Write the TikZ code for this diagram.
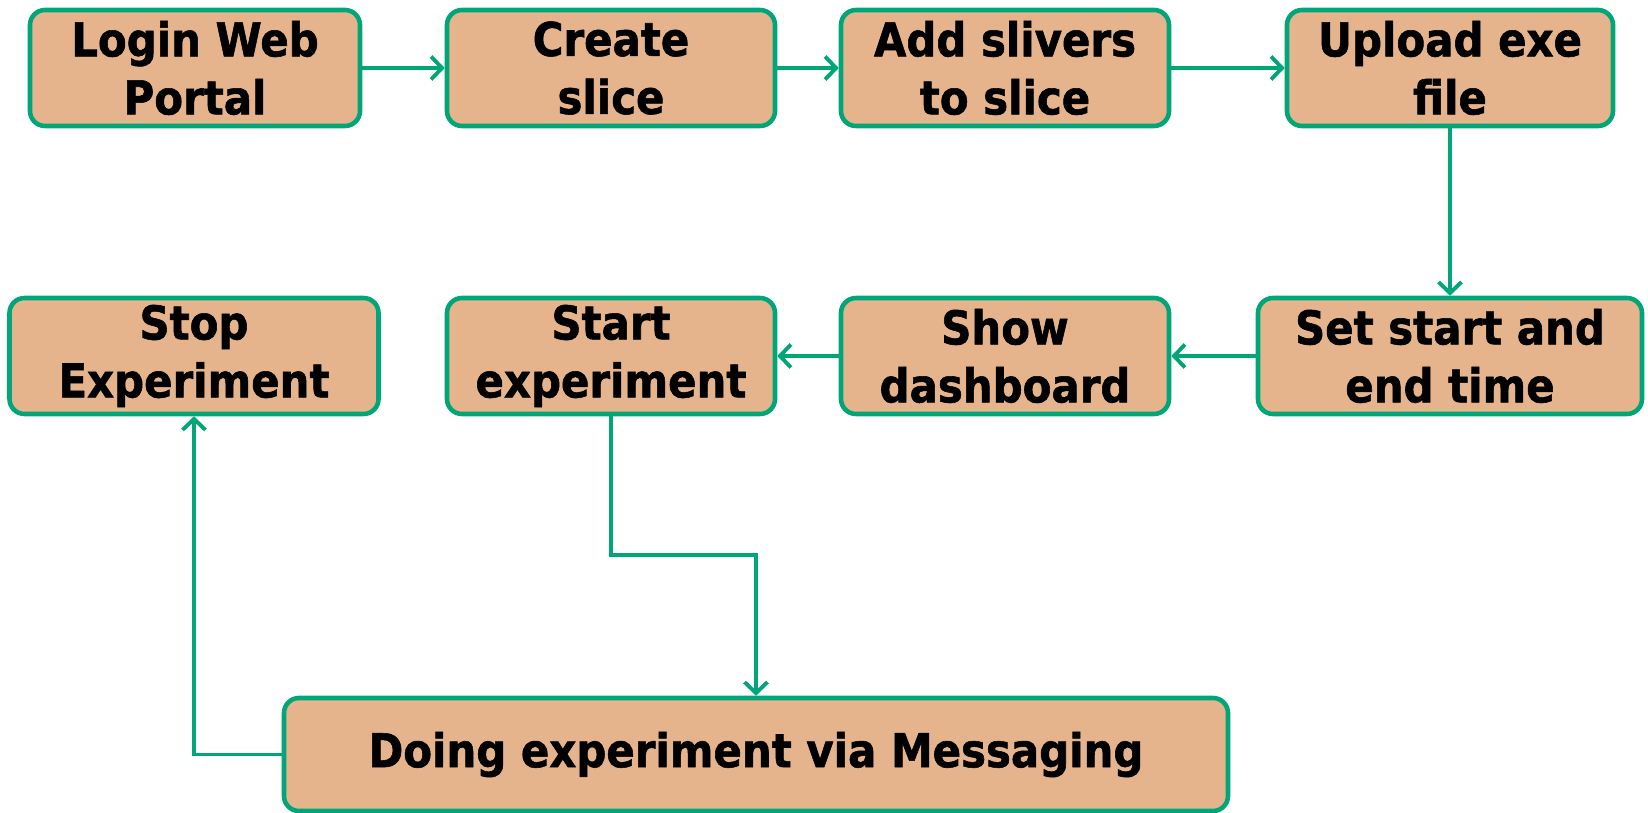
\documentclass[tikz,border=0pt]{standalone}
\usepackage{fontspec}
\setmainfont{DejaVu Sans}[FakeStretch=0.9, BoldFeatures={FakeBold=1.2}]
\usetikzlibrary{arrows.meta}
\definecolor{boxfill}{HTML}{E5B48C}
\definecolor{boxline}{HTML}{00A678}

\begin{document}
\begin{tikzpicture}[
    box/.style={rectangle, draw=boxline, fill=boxfill, line width=2.6pt, rounded corners=0.3cm,
        minimum width=6.56cm, minimum height=2.32cm, align=center, inner sep=0pt,
        font=\fontsize{26.5}{33}\selectfont\bfseries},
    arrow/.style={-{Straight Barb[length=0.22cm, width=0.46cm, line width=2.2pt]}, draw=boxline, line width=2.2pt}
]
    \useasboundingbox (0,0) rectangle (32.96,-16.26);
    \node[box, minimum width=6.6cm] (login) at (3.9,-1.36) {Login Web\\Portal};
    \node[box] (create) at (12.22,-1.36) {Create\\slice};
    \node[box] (slivers) at (20.1,-1.36) {Add slivers\\to slice};
    \node[box, minimum width=6.52cm] (upload) at (29.0,-1.36) {Upload exe\\file};
    \node[box, minimum width=7.68cm] (settime) at (29.0,-7.12) {Set start and\\end time};
    \node[box] (dashboard) at (20.1,-7.12) {Show\\dashboard};
    \node[box] (startexp) at (12.22,-7.12) {Start\\experiment};
    \node[box, minimum width=7.38cm] (stopexp) at (3.88,-7.12) {Stop\\Experiment};
    \node[box, minimum width=18.88cm, minimum height=2.26cm] (doing) at (15.12,-15.09) {Doing experiment via Messaging};
    \coordinate (turn) at (15.12,-11.1);

    \draw[arrow] (login) -- (create);
    \draw[arrow] (create) -- (slivers);
    \draw[arrow] (slivers) -- (upload);
    \draw[arrow] (upload) -- (settime);
    \draw[arrow] (settime) -- (dashboard);
    \draw[arrow] (dashboard) -- (startexp);
    \draw[arrow] (startexp.south) |- (turn) -- (doing.north);
    \draw[arrow] (doing.west) -| (stopexp.south);
\end{tikzpicture}
\end{document}
